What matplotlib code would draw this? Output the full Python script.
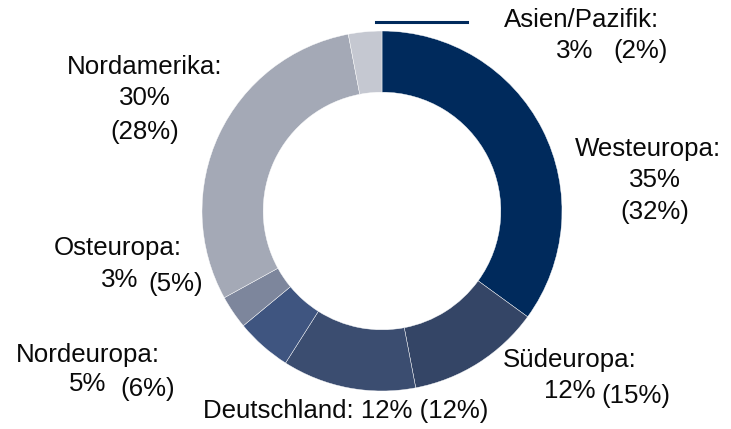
import matplotlib.pyplot as plt

regions = ['Westeuropa', 'Südeuropa', 'Deutschland', 'Nordeuropa', 'Osteuropa', 'Nordamerika', 'Asien/Pazifik']
shares = [35, 12, 12, 5, 3, 30, 3]
prev = [32, 15, 12, 6, 5, 28, 2]
colors = ['#002a5c', '#344566', '#3b4d70', '#3f5580', '#7d869c', '#a4a9b6', '#c5c8d1']

plt.rcParams['font.family'] = ['Liberation Sans', 'DejaVu Sans']

fig = plt.figure(figsize=(7.31, 4.29), dpi=100)
ax = fig.add_axes([0, 0, 1, 1])

# pixel coords, y measured from top
cx, cy, R = 382, 211, 180
ax.pie(shares, colors=colors, startangle=90, counterclock=False,
       center=(cx, 429 - cy), radius=R, frame=True,
       wedgeprops=dict(width=R * 0.34, edgecolor='white', linewidth=0.3))
ax.set_xlim(0, 731)
ax.set_ylim(0, 429)
ax.set_aspect('equal')
ax.axis('off')

fs = 18.6
def txt(x, y, s, ha='center'):
    ax.text(x, 429 - y, s, ha=ha, va='center', fontsize=fs, color='#0a0a0a')

# Asien/Pazifik with leader line
ax.plot([376, 467], [429 - 22, 429 - 22], color='#002a5c', lw=2.2)
txt(582, 20, regions[6] + ':')
txt(575, 51, f'{shares[6]}%')
txt(641, 51, f'({prev[6]}%)')

txt(648, 149, regions[0] + ':')
txt(655, 180, f'{shares[0]}%')
txt(655, 212, f'({prev[0]}%)')

txt(145, 67, regions[5] + ':')
txt(145, 98, f'{shares[5]}%')
txt(145, 132, f'({prev[5]}%)')

txt(118, 248, regions[4] + ':')
txt(120, 280, f'{shares[4]}%')
txt(176, 284, f'({prev[4]}%)')

txt(88, 355, regions[3] + ':')
txt(88, 384, f'{shares[3]}%')
txt(148, 389, f'({prev[3]}%)')

txt(346, 411, f'{regions[2]}: {shares[2]}% ({prev[2]}%)')

txt(570, 360, regions[1] + ':')
txt(570, 391, f'{shares[1]}%')
txt(636, 396, f'({prev[1]}%)')

fig.savefig('out.png', dpi=100)
